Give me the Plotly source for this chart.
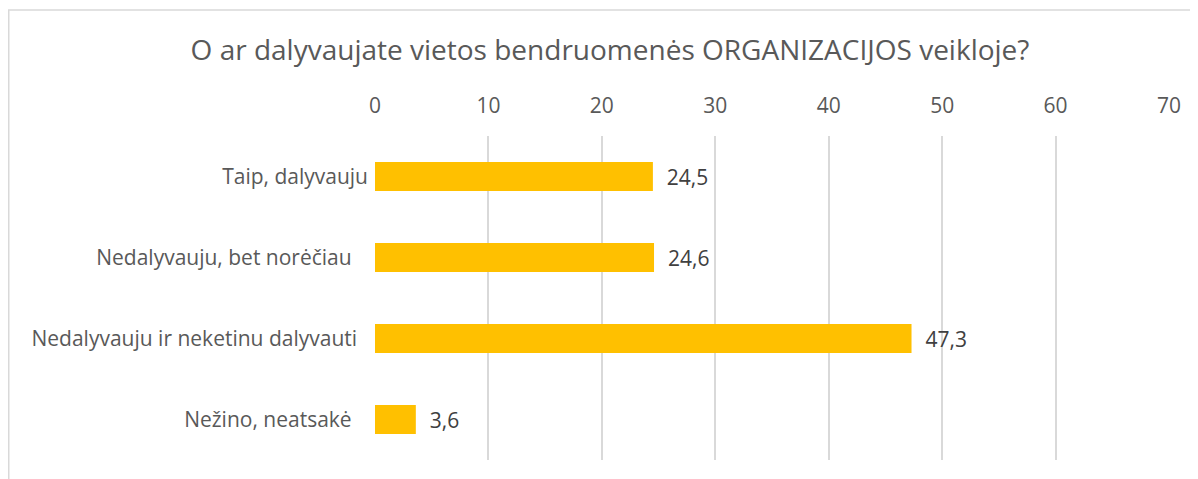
import plotly.graph_objects as go

categories = [
    "Taip, dalyvauju",
    "Nedalyvauju, bet norėčiau\u00a0\u00a0\u00a0",
    "Nedalyvauju ir neketinu dalyvauti\u00a0\u00a0",
    "Nežino, neatsakė\u00a0\u00a0\u00a0",
]
values = [24.5, 24.6, 47.3, 3.6]
tick_vals = [0, 10, 20, 30, 40, 50, 60, 70]

BAR = "#FFC000"
TEXT = "#595959"
GRID = "#D9D9D9"
FONT = "'Open Sans', 'Noto Sans', sans-serif"

# page has an 8px body margin, so figure coords = screen coords - 8
W, H = 1198, 479
L, R, T, B = 367, 37, 128, 27
pw, ph = W - L - R, H - T - B


def px_x(p):
    return (p - L) / pw


def px_y(p):
    return 1 - (p - T) / ph


fig = go.Figure(go.Bar(
    x=values, y=categories, orientation="h",
    marker=dict(color=BAR, line=dict(width=0)),
    text=["\u00a0\u00a0" + f"{v:.1f}".replace(".", ",") for v in values],
    textposition="outside", cliponaxis=False,
    textfont=dict(size=21, color="#404040"),
    width=0.36,
))

fig.update_layout(
    width=W, height=H,
    paper_bgcolor="white", plot_bgcolor="white",
    font=dict(family=FONT, color=TEXT, size=21),
    margin=dict(l=L, r=R, t=T, b=B, autoexpand=False),
    showlegend=False,
    title=dict(text="O ar dalyvaujate vietos bendruomenės ORGANIZACIJOS veikloje?",
               x=602 / W, xref="container", xanchor="center",
               y=1 - 42 / H, yref="container", yanchor="middle",
               font=dict(size=28, color=TEXT, family=FONT)),
    xaxis=dict(side="top", range=[0, 70], tickvals=tick_vals, automargin=False,
               showgrid=True, gridcolor=GRID, gridwidth=1.5,
               zeroline=False, showline=False, ticks="",
               ticklabelstandoff=18, tickfont=dict(size=21, color=TEXT)),
    yaxis=dict(autorange="reversed", showgrid=False, zeroline=False, automargin=False,
               showline=False, ticks="", ticklabelstandoff=6,
               tickfont=dict(size=21, color=TEXT)),
    shapes=[
        dict(type="line", xref="paper", yref="paper",
             x0=px_x(0), x1=px_x(W), y0=px_y(2), y1=px_y(2),
             line=dict(color=GRID, width=1.5)),
        dict(type="line", xref="paper", yref="paper",
             x0=px_x(0.75), x1=px_x(0.75), y0=px_y(2), y1=px_y(H),
             line=dict(color=GRID, width=1.5)),
    ],
)

fig.write_html("out.html")
